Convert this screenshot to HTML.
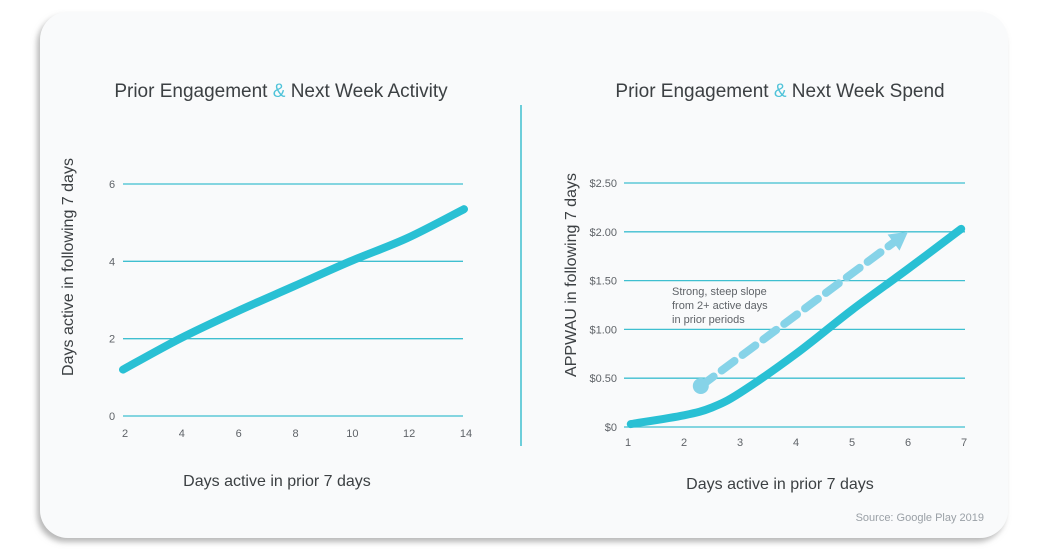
<!DOCTYPE html>
<html><head><meta charset="utf-8"><style>
html,body{margin:0;padding:0;background:#fff;}
svg{display:block;font-family:"Liberation Sans",sans-serif;}
</style></head><body>
<svg id="s" width="1048" height="554" viewBox="0 0 1048 554">
<defs><filter id="sh" x="-5%" y="-5%" width="110%" height="115%"><feDropShadow dx="-3" dy="4" stdDeviation="3" flood-color="#888" flood-opacity="0.6"/></filter></defs>
<rect x="40" y="12" width="968" height="526" rx="28" fill="#f9fafb" filter="url(#sh)"/>
<text x="281" y="97" font-size="19" fill="#3c4043" text-anchor="middle">Prior Engagement <tspan fill="#4fc3d9">&amp;</tspan> Next Week Activity</text>
<text x="780" y="97" font-size="19" fill="#3c4043" text-anchor="middle">Prior Engagement <tspan fill="#4fc3d9">&amp;</tspan> Next Week Spend</text>
<line x1="521" y1="105" x2="521" y2="446" stroke="#3fbfd0" stroke-width="1.5"/>
<text transform="translate(73,267) rotate(-90)" font-size="16" fill="#3c4043" text-anchor="middle">Days active in following 7 days</text>
<text transform="translate(576,275) rotate(-90)" font-size="16" fill="#3c4043" text-anchor="middle">APPWAU in following 7 days</text>
<text x="277" y="486" font-size="16" fill="#3c4043" text-anchor="middle">Days active in prior 7 days</text>
<text x="780" y="489" font-size="16" fill="#3c4043" text-anchor="middle">Days active in prior 7 days</text>
<text x="984" y="521" font-size="11" fill="#9aa0a6" text-anchor="end">Source: Google Play 2019</text>
<text x="672" y="295" font-size="11" fill="#5f6368"><tspan x="672">Strong, steep slope</tspan><tspan x="672" dy="14">from 2+ active days</tspan><tspan x="672" dy="14">in prior periods</tspan></text>
<g id="g1"></g><g id="g2"></g>
</svg>
<script>
const leftX=[2,4,6,8,10,12,14];
const leftY=[1.2,2.0,2.7,3.35,4.0,4.6,5.35];
const leftXTicks=[2,4,6,8,10,12,14];
const leftYTicks=[0,2,4,6];
const rightX=[1.05,2,2.5,3,4,5,6,6.95];
const rightY=[0.03,0.12,0.2,0.35,0.75,1.2,1.62,2.03];
const rightXTicks=[1,2,3,4,5,6,7];
const rightYTicks=[0,0.5,1,1.5,2,2.5];
const rightYLabels=["$0","$0.50","$1.00","$1.50","$2.00","$2.50"];
const arrowX=[2.3,6.0];
const arrowY=[0.42,2.0];
const NS="http://www.w3.org/2000/svg";
function mk(p,t,a){const e=document.createElementNS(NS,t);for(const k in a)e.setAttribute(k,a[k]);p.appendChild(e);return e;}
function smooth(pts){let d="M"+pts[0][0]+","+pts[0][1];for(let i=0;i<pts.length-1;i++){const p0=pts[i-1]||pts[i],p1=pts[i],p2=pts[i+1],p3=pts[i+2]||p2;d+=" C"+(p1[0]+(p2[0]-p0[0])/6)+","+(p1[1]+(p2[1]-p0[1])/6)+" "+(p2[0]-(p3[0]-p1[0])/6)+","+(p2[1]-(p3[1]-p1[1])/6)+" "+p2[0]+","+p2[1];}return d;}
// left
const g1=document.getElementById('g1');
const lx=v=>123+(v-2)/12*341, ly=v=>416-v/6*232;
leftYTicks.forEach(v=>{
 const l=mk(g1,'line',{x1:123,x2:463,y1:ly(v),y2:ly(v),stroke:'#3fbfd0','stroke-width':1.3});
 
 
 const t=mk(g1,'text',{x:112,y:ly(v)+4,'font-size':11,fill:'#5f6368','text-anchor':'middle'});t.textContent=v;
 
 
});
leftXTicks.forEach(v=>{
 const t=mk(g1,'text',{x:lx(v)+2,y:437,'font-size':11,fill:'#5f6368','text-anchor':'middle'});t.textContent=v;
 
 
});
const p1=mk(g1,'path',{d:smooth(leftX.map((x,i)=>[lx(x),ly(leftY[i])])),fill:'none',stroke:'#29c0d4','stroke-width':8,'stroke-linecap':'round'});


// right
const g2=document.getElementById('g2');
const rx=v=>628+(v-1)/6*336, ry=v=>427-v/2.5*244;
rightYTicks.forEach((v,i)=>{
 const l=mk(g2,'line',{x1:624,x2:965,y1:ry(v),y2:ry(v),stroke:'#3fbfd0','stroke-width':1.3});
 
 
 const t=mk(g2,'text',{x:617,y:ry(v)+4,'font-size':11,fill:'#5f6368','text-anchor':'end'});t.textContent=rightYLabels[i];
 
 
});
rightXTicks.forEach(v=>{
 const t=mk(g2,'text',{x:rx(v),y:446,'font-size':11,fill:'#5f6368','text-anchor':'middle'});t.textContent=v;
 
 
});
const p2=mk(g2,'path',{d:smooth(rightX.map((x,i)=>[rx(x),ry(rightY[i])])),fill:'none',stroke:'#29c0d4','stroke-width':8,'stroke-linecap':'round'});


const ax0=rx(arrowX[0]),ay0=ry(arrowY[0]),ax1=rx(arrowX[1]),ay1=ry(arrowY[1]);
const ang=Math.atan2(ay1-ay0,ax1-ax0),L=18;
const bx=ax1-L*Math.cos(ang),by=ay1-L*Math.sin(ang);
const al=mk(g2,'line',{x1:ax0,y1:ay0,x2:bx,y2:by,stroke:'#86d3e8','stroke-width':8,'stroke-dasharray':'16 10','stroke-linecap':'round'});


const nx=-Math.sin(ang),ny=Math.cos(ang);
const ah=mk(g2,'polygon',{points:[ax1,ay1,bx+nx*10,by+ny*10,bx-nx*10,by-ny*10].join(' '),fill:'#86d3e8'});


const dot=mk(g2,'circle',{cx:ax0,cy:ay0,r:8,fill:'#86d3e8'});


</script>
</body></html>
